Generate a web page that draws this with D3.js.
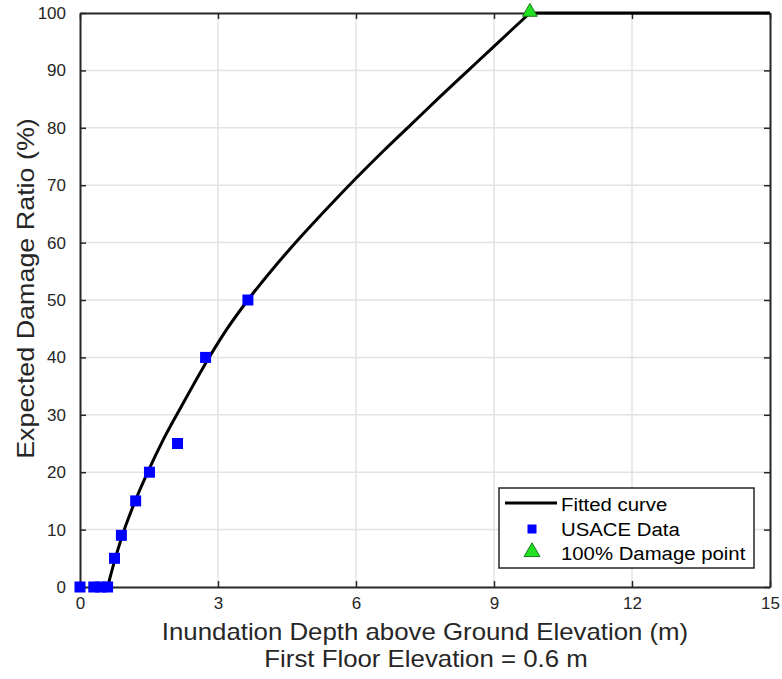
<!DOCTYPE html>
<html>
<head>
<meta charset="utf-8">
<script src="https://cdn.jsdelivr.net/npm/d3@7"></script>
<style>
  body { margin: 0; background: #fff; }
  svg { font-family: "Liberation Sans", Arial, sans-serif; }
</style>
</head>
<body>
<div id="chart"></div>
<script>
// USACE depth-damage points (depth above ground in m, damage %)
const usaceDepth = [0, 0.3, 0.45, 0.6, 0.75, 0.9, 1.21, 1.51, 2.12, 2.73, 3.65];
const usaceDamage = [0, 0, 0, 0, 5, 9, 15, 20, 25, 40, 50];

// fitted curve
const fitDepth = [0.6, 0.75, 0.9, 1.2, 1.5, 1.8, 2.2, 2.8, 3.2, 3.65, 4.2, 4.8, 5.4, 6.0, 6.6, 7.2, 7.8, 8.4, 9.0, 9.78];
const fitDamage = [0, 4.5, 8.5, 15.0, 20.5, 25.5, 31.4, 39.9, 45.0, 50.0, 55.5, 61.0, 66.2, 71.2, 76.0, 80.6, 85.2, 89.7, 94.2, 100];

// flat part after full damage
const flatDepth = [9.78, 15];
const flatDamage = [100, 100];

const fullDamagePoint = {depth: 9.78, damage: 100};

const xTicks = [0, 3, 6, 9, 12, 15];
const yTicks = [0, 10, 20, 30, 40, 50, 60, 70, 80, 90, 100];

const width = 782, height = 679;
const margins = {top: 13, right: 12, bottom: 92, left: 80};
const textColor = "#262626";

const svg = d3.select("#chart")
  .append("svg")
    .attr("width", width)
    .attr("height", height)
    .attr("viewBox", [0, 0, width, height]);

const xScale = d3.scaleLinear()
  .domain([0, 15])
  .range([margins.left, width - margins.right]);

const yScale = d3.scaleLinear()
  .domain([0, 100])
  .range([height - margins.bottom, margins.top]);

// grid
const grid = svg.append("g").attr("class", "grid")
  .attr("stroke", "#e3e3e3")
  .attr("stroke-width", 1.5);

grid.selectAll("line.gx")
  .data(xTicks.slice(1, -1))
  .join("line")
    .attr("class", "gx")
    .attr("x1", d => xScale(d)).attr("x2", d => xScale(d))
    .attr("y1", yScale(0)).attr("y2", yScale(100));

grid.selectAll("line.gy")
  .data(yTicks.slice(1, -1))
  .join("line")
    .attr("class", "gy")
    .attr("y1", d => yScale(d)).attr("y2", d => yScale(d))
    .attr("x1", xScale(0)).attr("x2", xScale(15));

// axes (ticks inside, box on)
const tickLen = 6;
const styleAxis = g => {
  g.select(".domain").attr("stroke", textColor).attr("stroke-width", 2);
  g.selectAll(".tick line").attr("stroke", textColor).attr("stroke-width", 1.5);
  g.selectAll(".tick text")
    .attr("fill", textColor)
    .style("font-size", "17px");
};

svg.append("g")
  .attr("transform", `translate(0, ${yScale(0)})`)
  .call(d3.axisBottom(xScale).tickValues(xTicks).tickSizeInner(-tickLen).tickSizeOuter(0).tickPadding(10))
  .call(styleAxis);

svg.append("g")
  .attr("transform", `translate(0, ${yScale(100)})`)
  .call(d3.axisTop(xScale).tickValues(xTicks).tickSizeInner(-tickLen).tickSizeOuter(0).tickFormat(""))
  .call(styleAxis);

svg.append("g")
  .attr("transform", `translate(${xScale(0)}, 0)`)
  .call(d3.axisLeft(yScale).tickValues(yTicks).tickSizeInner(-tickLen).tickSizeOuter(0).tickPadding(14))
  .call(styleAxis);

svg.append("g")
  .attr("transform", `translate(${xScale(15)}, 0)`)
  .call(d3.axisRight(yScale).tickValues(yTicks).tickSizeInner(-tickLen).tickSizeOuter(0).tickFormat(""))
  .call(styleAxis);

// fitted curve
const line = d3.line()
  .curve(d3.curveMonotoneX)
  .x(d => xScale(d[0]))
  .y(d => yScale(d[1]));

svg.append("path")
  .attr("d", line(d3.zip(fitDepth, fitDamage)))
  .attr("fill", "none")
  .attr("stroke", "#000")
  .attr("stroke-width", 3);

svg.append("path")
  .attr("d", d3.line().x(d => xScale(d[0])).y(d => yScale(d[1]))(d3.zip(flatDepth, flatDamage)))
  .attr("fill", "none")
  .attr("stroke", "#000")
  .attr("stroke-width", 3);

// USACE squares
const sq = 11;
svg.append("g")
  .selectAll("rect")
  .data(d3.zip(usaceDepth, usaceDamage))
  .join("rect")
    .attr("x", d => xScale(d[0]) - sq / 2)
    .attr("y", d => yScale(d[1]) - sq / 2)
    .attr("width", sq)
    .attr("height", sq)
    .attr("fill", "#0000ff");

// 100% damage triangle
const tri = d3.symbol().type(d3.symbolTriangle).size(95);
svg.append("path")
  .attr("d", tri())
  .attr("transform", `translate(${xScale(fullDamagePoint.depth)}, ${yScale(fullDamagePoint.damage) - 1})`)
  .attr("fill", "#22e022")
  .attr("stroke", "#1a7a1a")
  .attr("stroke-width", 1);

// text in the reference is a bit wider than Liberation Sans, stretch it
const stretch = (sel, k) => sel.each(function() {
  const w = this.getComputedTextLength();
  d3.select(this).attr("textLength", w * k).attr("lengthAdjust", "spacingAndGlyphs");
});

// axis labels
const cx = (xScale(0) + xScale(15)) / 2;
svg.append("text")
  .attr("x", cx)
  .attr("y", 640)
  .attr("text-anchor", "middle")
  .style("font-size", "24px")
  .attr("fill", textColor)
  .text("Inundation Depth above Ground Elevation (m)")
  .call(stretch, 1.075);

svg.append("text")
  .attr("x", cx + 1)
  .attr("y", 667)
  .attr("text-anchor", "middle")
  .style("font-size", "24px")
  .attr("fill", textColor)
  .text("First Floor Elevation = 0.6 m")
  .call(stretch, 1.075);

svg.append("text")
  .attr("transform", `translate(34, ${yScale(52)}) rotate(-90)`)
  .attr("text-anchor", "middle")
  .style("font-size", "24px")
  .attr("fill", textColor)
  .text("Expected Damage Ratio (%)")
  .call(stretch, 1.12);

// legend
const legend = svg.append("g").attr("transform", "translate(499, 488)");
legend.append("rect")
  .attr("width", 255).attr("height", 80)
  .attr("fill", "#fff")
  .attr("stroke", textColor)
  .attr("stroke-width", 1.5);

legend.append("line")
  .attr("x1", 6).attr("x2", 58).attr("y1", 15).attr("y2", 15)
  .attr("stroke", "#000").attr("stroke-width", 3);

legend.append("rect")
  .attr("x", 33 - 4.5).attr("y", 41 - 4.5).attr("width", 9).attr("height", 9)
  .attr("fill", "#0000ff");

legend.append("path")
  .attr("d", d3.symbol().type(d3.symbolTriangle).size(110)())
  .attr("transform", "translate(33, 64)")
  .attr("fill", "#22e022")
  .attr("stroke", "#1a7a1a");

const legendLabels = ["Fitted curve", "USACE Data", "100% Damage point"];
legend.selectAll("text.lab")
  .data(legendLabels)
  .join("text")
    .attr("class", "lab")
    .attr("x", 62)
    .attr("y", (d, i) => 23 + i * 24.5)
    .style("font-size", "18px")
    .attr("fill", "#000")
    .text(d => d)
    .call(stretch, 1.13);
</script>
</body>
</html>
